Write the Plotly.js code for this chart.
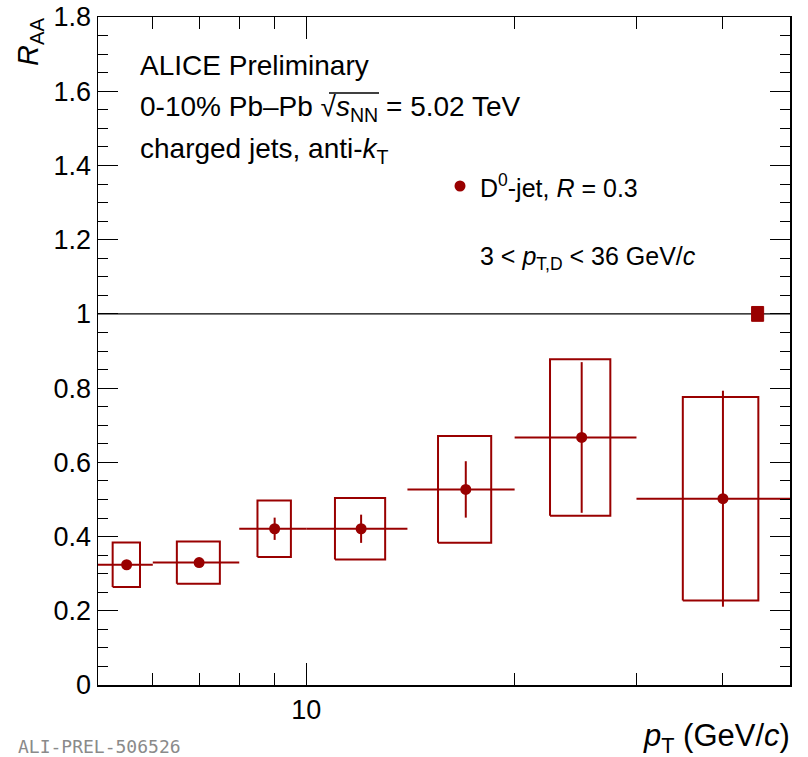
<!DOCTYPE html>
<html>
<head>
<meta charset="utf-8">
<script src="https://cdn.plot.ly/plotly-3.0.1.min.js"></script>
<style>
  html, body { margin: 0; padding: 0; background: #fff; }
  #plot { width: 808px; height: 757px; }
</style>
</head>
<body>
<div id="plot"></div>
<script>
// D0-jet nuclear modification factor, 0-10% Pb-Pb, R = 0.3
const binLow  = [5, 6, 8, 10, 14, 20, 30];
const binHigh = [6, 8, 10, 14, 20, 30, 50];
const raa     = [0.324, 0.330, 0.421, 0.421, 0.527, 0.667, 0.502];
const statErr = [0.010, 0.010, 0.030, 0.038, 0.076, 0.203, 0.291];
const sysErr  = [0.060, 0.057, 0.076, 0.083, 0.144, 0.211, 0.274];
const normUnc = 0.02;         // global normalisation uncertainty at R_AA = 1
const normPt  = [44.0, 45.8]; // where the normalisation box sits on the pT axis

const red = '#990000';

const centers = binLow.map((lo, i) => (lo + binHigh[i]) / 2);
const halfW   = binLow.map((lo, i) => (binHigh[i] - lo) / 2);

// systematic boxes: half the bin width wide, +-sys tall
const bx = [], by = [];
centers.forEach((c, i) => {
  const w = halfW[i] / 2;
  const lo = raa[i] - sysErr[i], hi = raa[i] + sysErr[i];
  bx.push(c - w, c + w, c + w, c - w, c - w, null);
  by.push(lo, lo, hi, hi, lo, null);
});

const L = 98, R = 790, T = 17, B = 685;
const px = v => (v - L) / (R - L);
const py = v => (B - v) / (B - T);

const traces = [
  {
    type: 'scatter', mode: 'lines', x: bx, y: by,
    line: { color: red, width: 2 }, hoverinfo: 'skip', showlegend: false
  },
  {
    type: 'scatter', mode: 'lines', fill: 'toself', fillcolor: red,
    x: [normPt[0], normPt[1], normPt[1], normPt[0], normPt[0]],
    y: [1 - normUnc, 1 - normUnc, 1 + normUnc, 1 + normUnc, 1 - normUnc],
    line: { color: red, width: 1 }, hoverinfo: 'skip', showlegend: false
  },
  {
    type: 'scatter', mode: 'markers', x: centers, y: raa,
    marker: { color: red, size: 11, symbol: 'circle' },
    error_x: { type: 'data', array: halfW, visible: true, color: red, thickness: 2, width: 0 },
    error_y: { type: 'data', array: statErr, visible: true, color: red, thickness: 2, width: 0 },
    showlegend: false
  },
  // legend marker, placed on a hidden unit overlay
  {
    type: 'scatter', mode: 'markers', x: [px(460)], y: [py(186)], xaxis: 'x2', yaxis: 'y2',
    marker: { color: red, size: 11 }, showlegend: false, hoverinfo: 'skip'
  }
];

const font = { family: 'Liberation Sans, Arial, sans-serif', size: 28, color: '#000' };
const sized = s => Object.assign({}, font, { size: s });
const txt = (text, x, y, opts = {}) => Object.assign({
  text, xref: 'paper', yref: 'paper', x: px(x), y: py(y),
  xanchor: 'left', yanchor: 'middle', showarrow: false, font
}, opts);

const layout = {
  width: 808, height: 757,
  margin: { l: L, r: 808 - R, t: T, b: 757 - B, pad: 0 },
  paper_bgcolor: '#fff', plot_bgcolor: '#fff',
  showlegend: false,
  xaxis: {
    type: 'log', range: [Math.log10(5), Math.log10(50)],
    tickvals: [10], ticktext: ['10'],
    ticks: 'inside', ticklen: 22, tickwidth: 1, tickcolor: '#000',
    minor: { tickvals: [6, 7, 8, 9, 20, 30, 40], ticks: 'inside', ticklen: 12, tickwidth: 1, tickcolor: '#000' },
    showline: true, linecolor: '#000', linewidth: 1.5, mirror: 'allticks',
    showgrid: false, zeroline: false,
    tickfont: sized(27)
  },
  yaxis: {
    range: [0, 1.8], tick0: 0, dtick: 0.2,
    ticks: 'inside', ticklen: 20, tickwidth: 1, tickcolor: '#000',
    minor: { dtick: 0.05, ticks: 'inside', ticklen: 10, tickwidth: 1, tickcolor: '#000' },
    showline: true, linecolor: '#000', linewidth: 1.5, mirror: 'allticks',
    showgrid: false, zeroline: false,
    tickfont: sized(27)
  },
  xaxis2: { domain: [0, 1], range: [0, 1], visible: false, overlaying: 'x', anchor: 'y2' },
  yaxis2: { domain: [0, 1], range: [0, 1], visible: false, overlaying: 'y', anchor: 'x2' },
  shapes: [
    { type: 'line', xref: 'paper', yref: 'y', x0: 0, x1: 1, y0: 1, y1: 1,
      line: { color: '#000', width: 1.2 }, layer: 'below' },
    // radical bar over s_NN
    { type: 'line', xref: 'paper', yref: 'paper', x0: px(329), x1: px(379), y0: py(93), y1: py(93),
      line: { color: '#000', width: 1.5 } }
  ],
  annotations: [
    txt('ALICE Preliminary', 138, 65),
    txt('0-10% Pb\u2013Pb \u221A<i>s</i><sub>NN</sub> = 5.02 TeV', 138, 108),
    txt('charged jets, anti-<i>k</i><sub>T</sub>', 138, 150),
    txt('D<sup>0</sup>-jet, <i>R</i> = 0.3', 478, 186, { font: sized(25) }),
    txt('3 < <i>p</i><sub>T,D</sub> < 36 GeV/<i>c</i>', 478, 258, { font: sized(25) }),
    txt('<i>R</i><sub>AA</sub>', 30, 16, { textangle: -90, xanchor: 'center', yanchor: 'top', font: sized(29) }),
    txt('<i>p</i><sub>T</sub> (GeV/<i>c</i>)', 792, 738, { xanchor: 'right', font: sized(31) }),
    txt('ALI-PREL-506526', 16, 746, { font: { family: 'DejaVu Sans Mono, monospace', size: 18, color: '#8a8a8a' } })
  ]
};

Plotly.newPlot('plot', traces, layout, { displayModeBar: false, staticPlot: true });
</script>
</body>
</html>
